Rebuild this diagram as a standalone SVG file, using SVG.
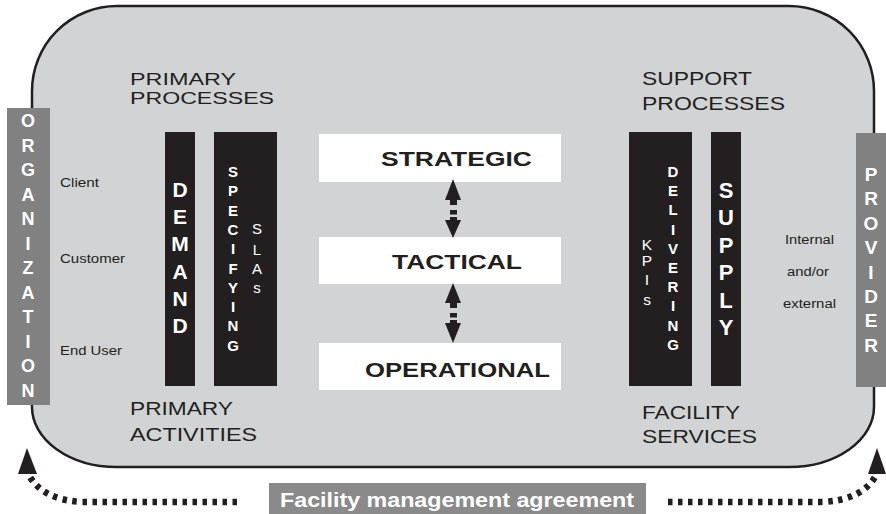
<svg xmlns="http://www.w3.org/2000/svg" width="886" height="514" viewBox="0 0 886 514">
<style>
text{font-family:"Liberation Sans",Arial,sans-serif;fill:#231f20}
.b{font-weight:bold}
.w{fill:#fff}
.bar{fill:#231f20}
.side{fill:#818181}
.lvl{fill:#fff}
.vc text{text-anchor:middle}
.dot{fill:none;stroke:#231f20;stroke-width:6.5;stroke-dasharray:4.5 5.5}
.ah{fill:#231f20}
</style>
<g id="frame">
<path d="M117,6 H789 A85,85 0 0 1 874,91 V407 A85,60 0 0 1 789,467 H117 A85,60 0 0 1 32,407 V91 A85,85 0 0 1 117,6 Z" fill="#d1d3d4" stroke="#231f20" stroke-width="2.5"/>
</g>
<g id="headings">
<text x="130" y="85" font-size="16" textLength="106" lengthAdjust="spacingAndGlyphs">PRIMARY</text>
<text x="130" y="103.5" font-size="16" textLength="144" lengthAdjust="spacingAndGlyphs">PROCESSES</text>
<text x="642" y="85" font-size="18" textLength="110" lengthAdjust="spacingAndGlyphs">SUPPORT</text>
<text x="642" y="110" font-size="18" textLength="143" lengthAdjust="spacingAndGlyphs">PROCESSES</text>
<text x="130" y="415" font-size="19" textLength="103" lengthAdjust="spacingAndGlyphs">PRIMARY</text>
<text x="130" y="441" font-size="19" textLength="127" lengthAdjust="spacingAndGlyphs">ACTIVITIES</text>
<text x="642" y="419" font-size="19" textLength="98" lengthAdjust="spacingAndGlyphs">FACILITY</text>
<text x="642" y="443" font-size="19" textLength="115" lengthAdjust="spacingAndGlyphs">SERVICES</text>
</g>
<g id="organization" class="vc">
<rect class="side" x="7" y="108" width="43" height="297"/>
<text class="b w" x="28" font-size="18"><tspan x="28" y="127">O</tspan><tspan x="28" y="151.5">R</tspan><tspan x="28" y="176">G</tspan><tspan x="28" y="200.5">A</tspan><tspan x="28" y="225">N</tspan><tspan x="28" y="249.5">I</tspan><tspan x="28" y="274">Z</tspan><tspan x="28" y="298.5">A</tspan><tspan x="28" y="323">T</tspan><tspan x="28" y="347.5">I</tspan><tspan x="28" y="372">O</tspan><tspan x="28" y="396.5">N</tspan></text>
</g>
<g id="provider" class="vc">
<rect class="side" x="856" y="133" width="30" height="254"/>
<text class="b w" x="871" font-size="19"><tspan x="871" y="181">P</tspan><tspan x="871" y="205.4">R</tspan><tspan x="871" y="229.8">O</tspan><tspan x="871" y="254.2">V</tspan><tspan x="871" y="278.6">I</tspan><tspan x="871" y="303">D</tspan><tspan x="871" y="327.4">E</tspan><tspan x="871" y="351.8">R</tspan></text>
</g>
<g id="client-labels">
<text x="60" y="187" font-size="13" textLength="39" lengthAdjust="spacingAndGlyphs">Client</text>
<text x="60" y="263" font-size="13" textLength="65" lengthAdjust="spacingAndGlyphs">Customer</text>
<text x="60" y="355" font-size="13" textLength="62" lengthAdjust="spacingAndGlyphs">End User</text>
</g>
<g id="provider-labels">
<text x="785" y="244" font-size="12.5" textLength="49" lengthAdjust="spacingAndGlyphs">Internal</text>
<text x="787" y="276" font-size="12.5" textLength="42" lengthAdjust="spacingAndGlyphs">and/or</text>
<text x="783" y="308" font-size="12.5" textLength="53" lengthAdjust="spacingAndGlyphs">external</text>
</g>
<g id="demand" class="vc">
<rect class="bar" x="165" y="132" width="30" height="254"/>
<text class="b w" font-size="21"><tspan x="180" y="197">D</tspan><tspan x="180" y="224.2">E</tspan><tspan x="180" y="251.4">M</tspan><tspan x="180" y="278.6">A</tspan><tspan x="180" y="305.8">N</tspan><tspan x="180" y="333">D</tspan></text>
</g>
<g id="specifying" class="vc">
<rect class="bar" x="214" y="132" width="63" height="254"/>
<text class="b w" font-size="15"><tspan x="233" y="177">S</tspan><tspan x="233" y="196.3">P</tspan><tspan x="233" y="215.6">E</tspan><tspan x="233" y="234.9">C</tspan><tspan x="233" y="254.2">I</tspan><tspan x="233" y="273.5">F</tspan><tspan x="233" y="292.8">Y</tspan><tspan x="233" y="312.1">I</tspan><tspan x="233" y="331.4">N</tspan><tspan x="233" y="350.7">G</tspan></text>
<text class="w" font-size="15"><tspan x="257" y="234">S</tspan><tspan x="257" y="255">L</tspan><tspan x="257" y="274">A</tspan><tspan x="257" y="293">s</tspan></text>
</g>
<g id="delivering" class="vc">
<rect class="bar" x="629" y="132" width="63" height="254"/>
<text class="w" font-size="15.5"><tspan x="647" y="250">K</tspan><tspan x="647" y="266">P</tspan><tspan x="647" y="285">I</tspan><tspan x="647" y="305">s</tspan></text>
<text class="b w" font-size="15"><tspan x="673" y="177">D</tspan><tspan x="673" y="196.2">E</tspan><tspan x="673" y="215.4">L</tspan><tspan x="673" y="234.6">I</tspan><tspan x="673" y="253.8">V</tspan><tspan x="673" y="273">E</tspan><tspan x="673" y="292.2">R</tspan><tspan x="673" y="311.4">I</tspan><tspan x="673" y="330.6">N</tspan><tspan x="673" y="349.8">G</tspan></text>
</g>
<g id="supply" class="vc">
<rect class="bar" x="711" y="132" width="30" height="254"/>
<text class="b w" font-size="22"><tspan x="726" y="198">S</tspan><tspan x="726" y="225.4">U</tspan><tspan x="726" y="252.8">P</tspan><tspan x="726" y="280.2">P</tspan><tspan x="726" y="307.6">L</tspan><tspan x="726" y="335">Y</tspan></text>
</g>
<g id="strategic">
<rect class="lvl" x="319" y="134" width="242" height="48"/>
<text class="b" x="381" y="166" font-size="20" textLength="151" lengthAdjust="spacingAndGlyphs">STRATEGIC</text>
</g>
<g id="tactical">
<rect class="lvl" x="319" y="237" width="242" height="47"/>
<text class="b" x="392" y="269" font-size="20" textLength="130" lengthAdjust="spacingAndGlyphs">TACTICAL</text>
</g>
<g id="operational">
<rect class="lvl" x="319" y="343" width="242" height="47"/>
<text class="b" x="365" y="377" font-size="20" textLength="185" lengthAdjust="spacingAndGlyphs">OPERATIONAL</text>
</g>
<g id="agreement">
<rect x="269" y="483" width="377" height="31" fill="#8a8a8a"/>
<text class="b w" x="280" y="507" font-size="21" textLength="354" lengthAdjust="spacingAndGlyphs">Facility management agreement</text>
</g>
<g id="connectors">
<polygon class="ah" points="453,179 445,200 461,200"/>
<rect class="ah" x="450" y="199" width="7" height="6"/>
<rect class="ah" x="450" y="210" width="7" height="4.5"/>
<rect class="ah" x="450" y="217" width="7" height="4"/>
<polygon class="ah" points="445,220 461,220 453,238"/>
<polygon class="ah" points="453,283 445,303 461,303"/>
<rect class="ah" x="450" y="302" width="7" height="6"/>
<rect class="ah" x="450" y="313" width="7" height="4.5"/>
<rect class="ah" x="450" y="320" width="7" height="4"/>
<polygon class="ah" points="445,323 461,323 453,343"/>
<path class="dot" d="M237,502 H82 Q44,500 30,477"/>
<polygon class="ah" points="27,448 18,474 37,474"/>
<path class="dot" d="M668,502 H823 Q861,500 875,477"/>
<polygon class="ah" points="877,448 868,474 886,474"/>
</g>
</svg>
